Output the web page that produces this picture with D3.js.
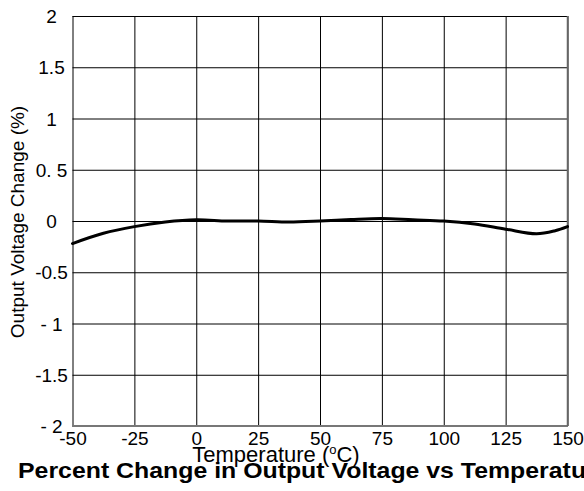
<!DOCTYPE html>
<html>
<head>
<meta charset="utf-8">
<script src="https://cdn.jsdelivr.net/npm/d3@7"></script>
<style>
  body { margin: 0; background: #fff; }
  text { font-family: Arial, "Liberation Sans", sans-serif; fill: #000; }
</style>
</head>
<body>
<div id="chart"></div>
<script>
// data
const temps = [-50, -37.5, -25, -12.5, 0, 12.5, 25, 37.5, 50, 62.5, 75, 87.5, 100, 112.5, 125, 137.5, 145, 150];
const changes = [-0.22, -0.12, -0.055, -0.01, 0.012, 0.0, 0.0, -0.01, 0.0, 0.015, 0.025, 0.012, 0.0, -0.03, -0.08, -0.125, -0.095, -0.055];

const tempTicks = [-50, -25, 0, 25, 50, 75, 100, 125, 150];
const tempLabels = ['-50', '-25', '0', '25', '50', '75', '100', '125', '150'];
const pctTicks = [-2, -1.5, -1, -0.5, 0, 0.5, 1, 1.5, 2];
const pctLabels = ['- 2', '-1.5', '- 1', '-0.5', '0', '0. 5', '1', '1.5', '2'];

const width = 584, height = 491;
const plot = { left: 72.5, right: 567.5, top: 16, bottom: 426 };

const x = d3.scaleLinear().domain([-50, 150]).range([plot.left, plot.right]);
const y = d3.scaleLinear().domain([-2, 2]).range([plot.bottom, plot.top]);

const svg = d3.select('#chart').append('svg')
  .attr('width', width)
  .attr('height', height);

// vertical grid + x labels
const xAxis = (g) =>
  g
    .attr('transform', `translate(0,${plot.bottom})`)
    .call(d3.axisBottom(x).tickValues(tempTicks)
      .tickSize(-(plot.bottom - plot.top))
      .tickPadding(6)
      .tickFormat((d, i) => tempLabels[i]))
    .call((g) => g.select('.domain').remove())
    .call((g) => g.selectAll('.tick line').attr('stroke', '#000'))
    .call((g) => g.selectAll('.tick text')
      .attr('font-size', 19)
      .attr('font-family', 'Arial, "Liberation Sans", sans-serif'));

// horizontal grid + y labels
const yAxis = (g) =>
  g
    .attr('transform', `translate(${plot.left},0)`)
    .call(d3.axisLeft(y).tickValues(pctTicks)
      .tickSize(-(plot.right - plot.left))
      .tickFormat((d, i) => pctLabels[i]))
    .call((g) => g.select('.domain').remove())
    .call((g) => g.selectAll('.tick line').attr('stroke', '#000'))
    .call((g) => g.selectAll('.tick text')
      .attr('x', -21)
      .attr('dy', '0.35em')
      .attr('text-anchor', 'middle')
      .attr('font-size', 19)
      .attr('font-family', 'Arial, "Liberation Sans", sans-serif'));

svg.append('g').attr('class', 'x-axis').call(xAxis);
svg.append('g').attr('class', 'y-axis').call(yAxis);

// frame
svg.append('line')
  .attr('x1', plot.left).attr('x2', plot.right)
  .attr('y1', plot.bottom).attr('y2', plot.bottom)
  .attr('stroke', '#777').attr('stroke-width', 2);
svg.append('line')
  .attr('x1', plot.right).attr('x2', plot.right)
  .attr('y1', plot.top).attr('y2', plot.bottom)
  .attr('stroke', '#666').attr('stroke-width', 1.5);

// curve
const line = d3.line()
  .x((d, i) => x(temps[i]))
  .y((d) => y(d))
  .curve(d3.curveCatmullRom);

svg.append('path')
  .datum(changes)
  .attr('fill', 'none')
  .attr('stroke', '#000')
  .attr('stroke-width', 3)
  .attr('stroke-linecap', 'round')
  .attr('d', line);

// axis titles
const xt = svg.append('text')
  .attr('x', 276).attr('y', 462)
  .attr('text-anchor', 'middle')
  .attr('font-size', 22);
xt.append('tspan').text('Temperature (');
xt.append('tspan').attr('font-size', 13).attr('dy', -8).text('o');
xt.append('tspan').attr('dy', 8).text('C)');

svg.append('text')
  .attr('transform', 'translate(24,222) rotate(-90)')
  .attr('text-anchor', 'middle')
  .attr('font-size', 19)
  .text('Output Voltage Change (%)');

// chart title
svg.append('text')
  .attr('transform', 'translate(18,478) scale(1.13,1)')
  .attr('font-size', 22)
  .attr('font-weight', 'bold')
  .text('Percent Change in Output Voltage vs Temperature');
</script>
</body>
</html>
